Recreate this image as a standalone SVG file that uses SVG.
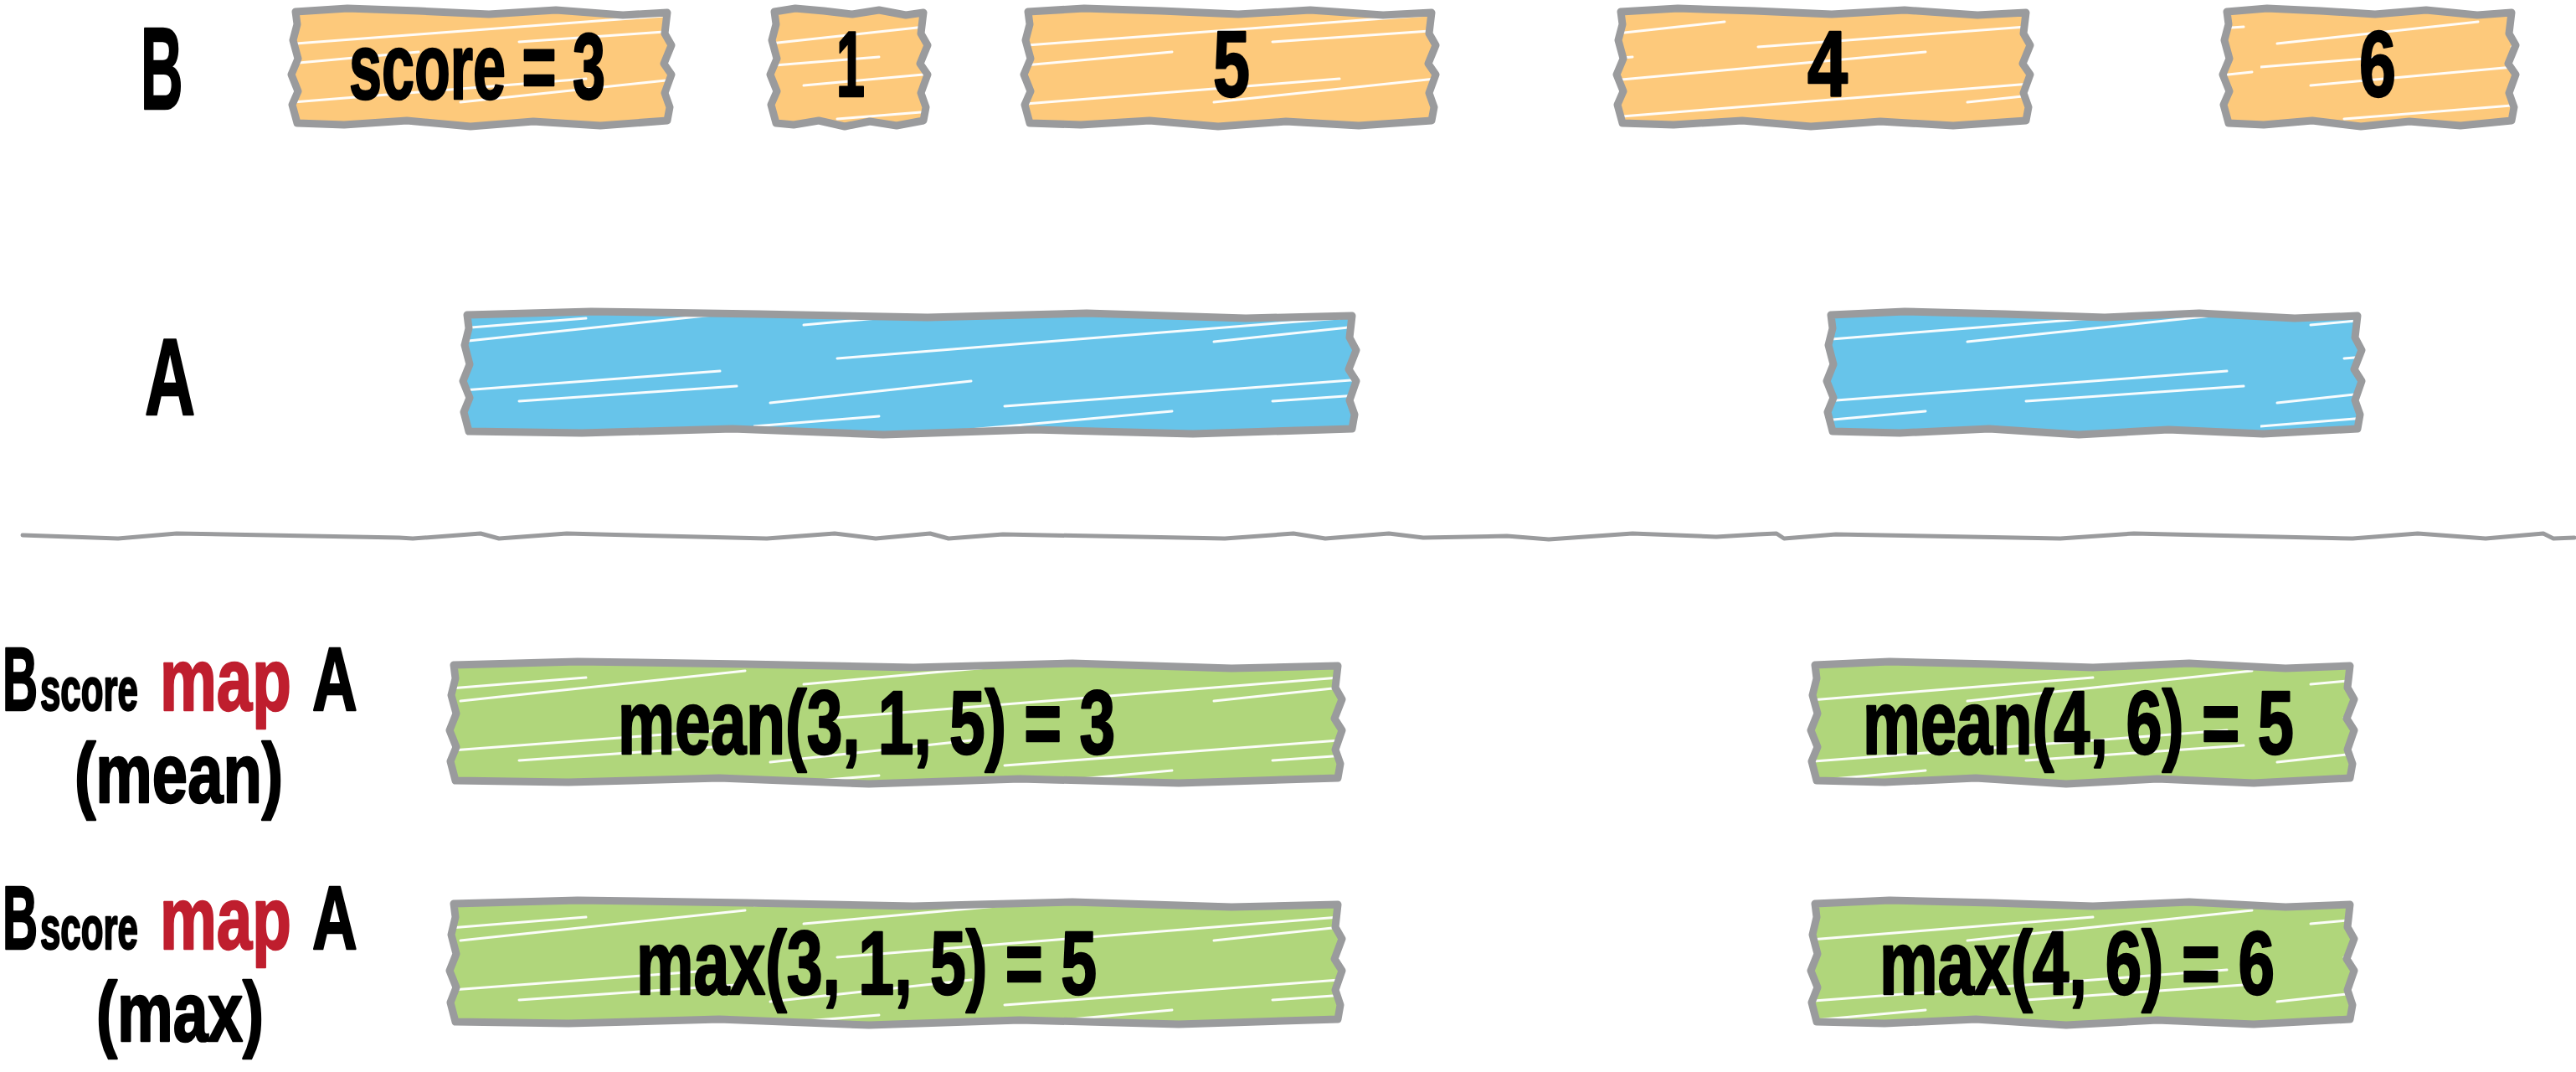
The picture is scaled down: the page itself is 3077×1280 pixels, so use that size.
<svg xmlns="http://www.w3.org/2000/svg" xmlns:xlink="http://www.w3.org/1999/xlink" width="3077" height="1280" viewBox="0 0 3077 1280">
<style>
  .o { fill: #FDC97B; stroke: none; }
  .b { fill: #67C4EA; stroke: none; }
  .g { fill: #B0D67B; stroke: none; }
  .h { fill: url(#hatch); stroke: none; }
  .e { fill: none; stroke: #9A9B9D; stroke-width: 9; stroke-linejoin: round; stroke-linecap: round; }
  .t { font-family: "Liberation Sans", Arial, sans-serif; font-weight: bold; fill: #000; stroke: #000; stroke-width: 2.5; stroke-linejoin: round; }
  .red { fill: #BF1E2E; stroke: #BF1E2E; }
  .div { fill: none; stroke: #9A9B9D; stroke-width: 5; stroke-linejoin: round; stroke-linecap: round; }
</style>
<defs>
  <pattern id="hatch" patternUnits="userSpaceOnUse" x="0" y="10" width="900" height="143">
    <g stroke="#FFFFFF" stroke-width="3" stroke-linecap="round" fill="none" opacity="0.95">
      <path d="M20,42 L260,16"/>
      <path d="M300,46 L860,4"/>
      <path d="M60,92 L500,52"/>
      <path d="M550,112 L890,76"/>
      <path d="M100,132 L700,84"/>
      <path d="M0,70 L150,58"/>
      <path d="M620,40 L880,22"/>
    </g>
  </pattern>
  <path id="pB1" d="M353,14 L415,10 L500,13 L584,17 L664,12 L744,18 L797,15 L794,40 L802,54 L793,76 L802,89 L794,111 L800,128 L797,144 L717,150 L637,145 L562,151 L486,144 L411,149 L355,147 L349,125 L356,109 L348,89 L356,70 L350,48 L355,29 Z"/>
  <path id="pB2" d="M925,14 L950,10 L984,13 L1018,17 L1050,12 L1082,18 L1103,15 L1100,40 L1108,54 L1099,76 L1108,89 L1100,111 L1106,128 L1103,144 L1071,150 L1039,145 L1009,151 L978,144 L948,149 L927,147 L921,125 L928,109 L920,89 L928,70 L922,48 L927,29 Z"/>
  <path id="pB3" d="M1228,14 L1295,10 L1387,13 L1479,17 L1565,12 L1652,18 L1710,15 L1707,40 L1715,54 L1706,76 L1715,89 L1707,111 L1713,128 L1710,144 L1623,150 L1536,145 L1455,151 L1373,144 L1291,149 L1230,147 L1224,125 L1231,109 L1223,89 L1231,70 L1225,48 L1230,29 Z"/>
  <path id="pB4" d="M1936,14 L2004,10 L2096,13 L2188,17 L2275,12 L2362,18 L2420,15 L2417,40 L2425,54 L2416,76 L2425,89 L2417,111 L2423,128 L2420,144 L2333,150 L2246,145 L2163,151 L2081,144 L1999,149 L1938,147 L1932,125 L1939,109 L1931,89 L1939,70 L1933,48 L1938,29 Z"/>
  <path id="pB5" d="M2660,14 L2708,10 L2772,13 L2837,17 L2898,12 L2959,18 L3000,15 L2997,40 L3005,54 L2996,76 L3005,89 L2997,111 L3003,128 L3000,144 L2939,150 L2878,145 L2820,151 L2762,144 L2704,149 L2662,147 L2656,125 L2663,109 L2655,89 L2663,70 L2657,48 L2662,29 Z"/>
  <path id="pA1" d="M558,376 L706,372 L907,375 L1108,379 L1298,374 L1488,380 L1615,377 L1612,403 L1620,418 L1611,441 L1620,455 L1612,478 L1618,495 L1615,512 L1425,518 L1234,513 L1055,519 L875,512 L695,517 L560,515 L554,492 L561,475 L553,455 L561,435 L555,412 L560,392 Z"/>
  <path id="pA2" d="M2187,376 L2275,372 L2395,375 L2514,379 L2627,374 L2741,380 L2816,377 L2813,403 L2821,418 L2812,441 L2821,455 L2813,478 L2819,495 L2816,512 L2703,518 L2590,513 L2483,519 L2376,512 L2269,517 L2189,515 L2183,492 L2190,475 L2182,455 L2190,435 L2184,412 L2189,392 Z"/>
  <path id="pG1" d="M542,794 L690,790 L890,793 L1091,797 L1281,792 L1471,798 L1598,795 L1595,821 L1603,835 L1594,858 L1603,872 L1595,895 L1601,912 L1598,929 L1408,935 L1218,930 L1038,936 L859,929 L679,934 L544,932 L538,909 L545,892 L537,872 L545,852 L539,830 L544,810 Z"/>
  <path id="pG2" d="M2168,794 L2257,790 L2379,793 L2500,797 L2615,792 L2730,798 L2807,795 L2804,821 L2812,835 L2803,858 L2812,872 L2804,895 L2810,912 L2807,929 L2692,935 L2577,930 L2468,936 L2360,929 L2251,934 L2170,932 L2164,909 L2171,892 L2163,872 L2171,852 L2165,830 L2170,810 Z"/>
  <path id="pG3" d="M542,1079 L690,1075 L890,1078 L1091,1082 L1281,1077 L1471,1083 L1598,1080 L1595,1107 L1603,1121 L1594,1145 L1603,1159 L1595,1182 L1601,1200 L1598,1217 L1408,1223 L1218,1218 L1038,1224 L859,1217 L679,1222 L544,1220 L538,1197 L545,1179 L537,1159 L545,1139 L539,1116 L544,1095 Z"/>
  <path id="pG4" d="M2168,1079 L2257,1075 L2379,1078 L2500,1082 L2615,1077 L2730,1083 L2807,1080 L2804,1107 L2812,1121 L2803,1145 L2812,1159 L2804,1182 L2810,1200 L2807,1217 L2692,1223 L2577,1218 L2468,1224 L2360,1217 L2251,1222 L2170,1220 L2164,1197 L2171,1179 L2163,1159 L2171,1139 L2165,1116 L2170,1095 Z"/>
</defs>

<rect x="0" y="0" width="3077" height="1280" fill="#FFFFFF"/>

<!-- row labels -->
<g id="label-B">
  <text class="t" transform="translate(168,130) scale(0.5,1)" font-size="140">B</text>
</g>
<g id="label-A">
  <text class="t" transform="translate(173,495) scale(0.64,1)" font-size="130">A</text>
</g>
<g id="label-mean">
  <text class="t" transform="translate(3,848) scale(0.54,1)" font-size="108">B</text>
  <text class="t" transform="translate(48,848) scale(0.6,1)" font-size="73">score</text>
  <text class="t red" transform="translate(191,848) scale(0.72,1)" font-size="106">map</text>
  <text class="t" transform="translate(373,848) scale(0.69,1)" font-size="108">A</text>
  <text class="t" transform="translate(89,958) scale(0.76,1)" font-size="100">(mean)</text>
</g>
<g id="label-max">
  <text class="t" transform="translate(3,1133) scale(0.54,1)" font-size="108">B</text>
  <text class="t" transform="translate(48,1133) scale(0.6,1)" font-size="73">score</text>
  <text class="t red" transform="translate(191,1133) scale(0.72,1)" font-size="106">map</text>
  <text class="t" transform="translate(373,1133) scale(0.69,1)" font-size="108">A</text>
  <text class="t" transform="translate(115,1243) scale(0.75,1)" font-size="100">(max)</text>
</g>

<!-- B intervals -->
<g id="B1">
  <use xlink:href="#pB1" class="o"/><use xlink:href="#pB1" class="h"/><use xlink:href="#pB1" class="e"/>
  <text class="t" x="417" y="118" font-size="112" textLength="306" lengthAdjust="spacingAndGlyphs">score = 3</text>
</g>
<g id="B2">
  <use xlink:href="#pB2" class="o"/><use xlink:href="#pB2" class="h"/><use xlink:href="#pB2" class="e"/>
  <text class="t" x="1016" y="115" font-size="112" text-anchor="middle" textLength="34" lengthAdjust="spacingAndGlyphs">1</text>
</g>
<g id="B3">
  <use xlink:href="#pB3" class="o"/><use xlink:href="#pB3" class="h"/><use xlink:href="#pB3" class="e"/>
  <text class="t" x="1471" y="115" font-size="112" text-anchor="middle" textLength="44" lengthAdjust="spacingAndGlyphs">5</text>
</g>
<g id="B4">
  <use xlink:href="#pB4" class="o"/><use xlink:href="#pB4" class="h"/><use xlink:href="#pB4" class="e"/>
  <text class="t" x="2183" y="115" font-size="112" text-anchor="middle" textLength="48" lengthAdjust="spacingAndGlyphs">4</text>
</g>
<g id="B5">
  <use xlink:href="#pB5" class="o"/><use xlink:href="#pB5" class="h"/><use xlink:href="#pB5" class="e"/>
  <text class="t" x="2840" y="115" font-size="112" text-anchor="middle" textLength="44" lengthAdjust="spacingAndGlyphs">6</text>
</g>

<!-- A intervals -->
<g id="A1">
  <use xlink:href="#pA1" class="b"/><use xlink:href="#pA1" class="h"/><use xlink:href="#pA1" class="e"/>
</g>
<g id="A2">
  <use xlink:href="#pA2" class="b"/><use xlink:href="#pA2" class="h"/><use xlink:href="#pA2" class="e"/>
</g>

<!-- divider -->
<g id="divider">
  <path class="div" d="M27,639 L141,643 L211,637 L477,642 L493,643 L574,637 L596,643 L677,637 L916,643 L997,637 L1046,643 L1111,637 L1133,643 L1198,638 L1463,643 L1545,637 L1583,643 L1659,637 L1700,642 L1800,640 L1850,644 L1950,637 L2050,641 L2100,638 L2122,637 L2131,643 L2193,638 L2461,643 L2549,637 L2810,643 L2888,637 L2969,643 L3038,637 L3050,643 L3075,642"/>
</g>

<!-- results: mean -->
<g id="G1">
  <use xlink:href="#pG1" class="g"/><use xlink:href="#pG1" class="h"/><use xlink:href="#pG1" class="e"/>
  <text class="t" x="738" y="900" font-size="107" textLength="594" lengthAdjust="spacingAndGlyphs">mean(3, 1, 5) = 3</text>
</g>
<g id="G2">
  <use xlink:href="#pG2" class="g"/><use xlink:href="#pG2" class="h"/><use xlink:href="#pG2" class="e"/>
  <text class="t" x="2225" y="900" font-size="107" textLength="515" lengthAdjust="spacingAndGlyphs">mean(4, 6) = 5</text>
</g>

<!-- results: max -->
<g id="G3">
  <use xlink:href="#pG3" class="g"/><use xlink:href="#pG3" class="h"/><use xlink:href="#pG3" class="e"/>
  <text class="t" x="760" y="1187" font-size="107" textLength="550" lengthAdjust="spacingAndGlyphs">max(3, 1, 5) = 5</text>
</g>
<g id="G4">
  <use xlink:href="#pG4" class="g"/><use xlink:href="#pG4" class="h"/><use xlink:href="#pG4" class="e"/>
  <text class="t" x="2245" y="1187" font-size="107" textLength="472" lengthAdjust="spacingAndGlyphs">max(4, 6) = 6</text>
</g>
</svg>
